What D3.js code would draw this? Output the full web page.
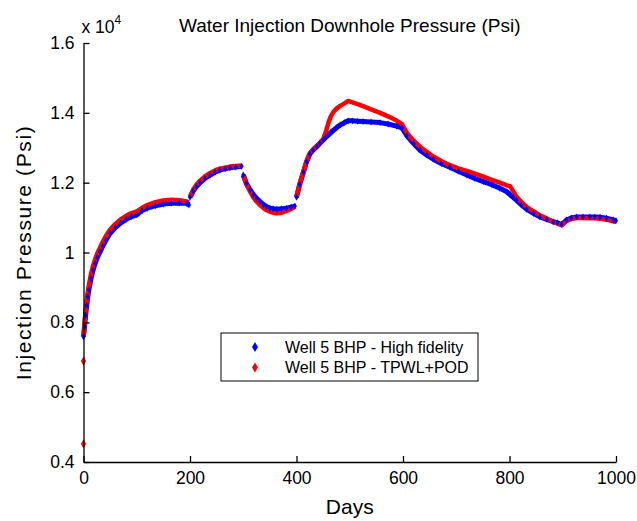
<!DOCTYPE html>
<html lang="en">
<head>
<meta charset="utf-8">
<title>Water Injection Downhole Pressure</title>
<style>
  html, body { margin: 0; padding: 0; background: #fff; }
  text { font-family: "Liberation Sans", Arial, sans-serif; fill: #000; }
  .axis path, .axis line { stroke: #000; stroke-width: 1.3px; }
</style>
</head>
<body>
<div id="chart"></div>
<script src="https://cdn.jsdelivr.net/npm/d3@7"></script>
<script>
// days of the samples, segments restart at each break
var days = [0, 2, 4, 6, 8, 10, 14, 18, 22, 26, 31, 36, 42, 50, 60, 70, 80, 90, 100, 110, 120, 135, 150, 165, 180, 194, 198,
  200, 206, 212, 219, 228, 238, 247, 256, 266, 275, 286, 297,
  300, 306, 313, 319, 325, 332, 338, 344, 350, 356, 363, 372, 381, 390, 397,
  400, 406, 413, 419, 425, 431, 438, 444, 450, 455, 460, 465, 470, 475, 482, 490, 497, 505, 515, 525, 540, 557, 572, 588, 598,
  607, 620, 632, 645, 657, 672, 688, 704, 720, 735, 751, 767, 782, 795, 801, 807, 813, 822, 832, 845, 857, 870, 882, 890, 898,
  907, 916, 926, 938, 951, 960, 970, 982, 995, 1000];
var breaks = [200, 300, 400];

// Well 5 BHP - High fidelity (x 1e4 psi)
var hiFi = [0.759, 0.787, 0.820, 0.848, 0.873, 0.893, 0.925, 0.950, 0.969, 0.986, 1.002, 1.018, 1.035, 1.055, 1.072, 1.085, 1.095, 1.103, 1.108, 1.120, 1.127, 1.134, 1.139, 1.141, 1.142, 1.141, 1.136,
  1.158, 1.176, 1.189, 1.200, 1.212, 1.222, 1.230, 1.236, 1.240, 1.243, 1.245, 1.247,
  1.222, 1.198, 1.179, 1.166, 1.155, 1.145, 1.137, 1.131, 1.127, 1.125, 1.124, 1.125, 1.127, 1.130, 1.133,
  1.158, 1.195, 1.230, 1.260, 1.282, 1.293, 1.303, 1.313, 1.322, 1.330, 1.337, 1.344, 1.351, 1.357, 1.365, 1.372, 1.377, 1.377, 1.376, 1.375, 1.374, 1.372, 1.368, 1.362, 1.357,
  1.335, 1.312, 1.293, 1.279, 1.267, 1.255, 1.244, 1.233, 1.222, 1.212, 1.203, 1.194, 1.184, 1.174, 1.166, 1.158, 1.150, 1.137, 1.124, 1.112, 1.102, 1.095, 1.088, 1.085, 1.080,
  1.093, 1.099, 1.102, 1.102, 1.102, 1.102, 1.101, 1.098, 1.093, 1.091];

// Well 5 BHP - TPWL+POD (x 1e4 psi)
var tpwl = [0.760, 0.800, 0.835, 0.862, 0.886, 0.906, 0.938, 0.962, 0.981, 0.998, 1.014, 1.030, 1.047, 1.066, 1.082, 1.095, 1.105, 1.113, 1.118, 1.128, 1.136, 1.144, 1.149, 1.151, 1.150, 1.146, 1.143,
  1.160, 1.180, 1.194, 1.206, 1.218, 1.228, 1.235, 1.240, 1.243, 1.246, 1.248, 1.249,
  1.220, 1.195, 1.174, 1.158, 1.146, 1.135, 1.127, 1.121, 1.117, 1.114, 1.112, 1.114, 1.119, 1.125, 1.131,
  1.160, 1.197, 1.232, 1.262, 1.284, 1.295, 1.305, 1.314, 1.324, 1.345, 1.372, 1.392, 1.404, 1.412, 1.420, 1.427, 1.434, 1.430, 1.425, 1.419, 1.410, 1.400, 1.390, 1.378, 1.368,
  1.343, 1.320, 1.303, 1.288, 1.275, 1.262, 1.250, 1.241, 1.234, 1.226, 1.217, 1.208, 1.200, 1.192, 1.190, 1.175, 1.160, 1.145, 1.131, 1.118, 1.107, 1.097, 1.088, 1.083, 1.078,
  1.090, 1.096, 1.099, 1.099, 1.098, 1.098, 1.097, 1.094, 1.089, 1.087];

// first reduced-model samples sitting on the y axis
var tpwlStartDays = [0, 0];
var tpwlStart = [0.452, 0.689];

var xTicks = [0, 200, 400, 600, 800, 1000];
var yTicks = [0.4, 0.6, 0.8, 1, 1.2, 1.4, 1.6];

var width = 637, height = 521;
var margin = {top: 43, right: 21, bottom: 59, left: 83.5};

var svg = d3.select("#chart").append("svg")
  .attr("width", width)
  .attr("height", height);

var x = d3.scaleLinear().domain([0, 1000]).range([margin.left, width - margin.right]);
var y = d3.scaleLinear().domain([0.4, 1.6]).range([height - margin.bottom, margin.top]);

// split the series where the injection schedule jumps
function segments(values) {
  var segs = [], cur = [];
  days.forEach(function (d, i) {
    if (breaks.indexOf(d) >= 0 && cur.length) { segs.push(cur); cur = []; }
    cur.push([d, values[i]]);
  });
  segs.push(cur);
  return segs;
}

var line = d3.line()
  .x(function (d) { return x(d[0]); })
  .y(function (d) { return y(d[1]); });

var diamond = d3.symbol().type(d3.symbolDiamond);

var series = [
  {name: "Well 5 BHP - High fidelity", values: hiFi, color: "#0000ff"},
  {name: "Well 5 BHP - TPWL+POD", values: tpwl, color: "#ff0000"}
];

var plot = svg.append("g");

series.forEach(function (s) {
  plot.append("g").selectAll("path")
    .data(segments(s.values))
    .enter().append("path")
    .attr("d", line)
    .attr("fill", "none")
    .attr("stroke", s.color)
    .attr("stroke-width", s.color === "#0000ff" ? 5 : 4.5)
    .attr("stroke-linejoin", "round");
});

// markers
plot.append("g").selectAll("path")
  .data(days.map(function (d, i) { return [d, hiFi[i]]; }))
  .enter().append("path")
  .attr("d", diamond.size(14)())
  .attr("transform", function (d) { return "translate(" + x(d[0]) + "," + y(d[1]) + ")"; })
  .attr("fill", "#0000ff");

plot.append("g").selectAll("path")
  .data(tpwlStartDays.map(function (d, i) { return [d, tpwlStart[i]]; }))
  .enter().append("path")
  .attr("d", diamond.size(24)())
  .attr("transform", function (d) { return "translate(" + x(d[0]) + "," + y(d[1]) + ")"; })
  .attr("fill", "#ff0000");

// axes, ticks pointing inward, no box
var xAxis = svg.append("g")
  .attr("class", "axis")
  .attr("transform", "translate(0," + (height - margin.bottom) + ")")
  .call(d3.axisBottom(x).tickValues(xTicks).tickSizeInner(-6).tickSizeOuter(0).tickPadding(10).tickFormat(d3.format("d")));
var yAxis = svg.append("g")
  .attr("class", "axis")
  .attr("transform", "translate(" + margin.left + ",0)")
  .call(d3.axisLeft(y).tickValues(yTicks).tickSizeInner(-6).tickSizeOuter(0).tickPadding(9).tickFormat(function (d) { return d3.format("")(d); }));

svg.selectAll(".axis text").style("font-size", "17.5px").style("font-family", "'Liberation Sans', Arial, sans-serif");

// exponent label
var expo = svg.append("text").attr("x", margin.left - 2).attr("y", 33).style("font-size", "17.5px");
expo.append("tspan").text("x 10");
expo.append("tspan").attr("dy", -9).style("font-size", "12px").text("4");

svg.append("text")
  .attr("x", (x(0) + x(1000)) / 2)
  .attr("y", 32)
  .attr("text-anchor", "middle")
  .style("font-size", "19px")
  .text("Water Injection Downhole Pressure (Psi)");

svg.append("text")
  .attr("x", (x(0) + x(1000)) / 2)
  .attr("y", 514)
  .attr("text-anchor", "middle")
  .style("font-size", "21px")
  .text("Days");

svg.append("text")
  .attr("transform", "translate(31," + ((y(0.4) + y(1.6)) / 2) + ") rotate(-90)")
  .attr("text-anchor", "middle")
  .style("font-size", "21px")
  .style("letter-spacing", "1.6px")
  .text("Injection Pressure (Psi)");

// legend
var legend = svg.append("g").attr("transform", "translate(221,333)");
legend.append("rect")
  .attr("width", 257).attr("height", 48)
  .attr("fill", "#fff").attr("stroke", "#000").attr("stroke-width", 1);
series.forEach(function (s, i) {
  var row = legend.append("g").attr("transform", "translate(0," + (14 + i * 20.5) + ")");
  row.append("path")
    .attr("d", diamond.size(30)())
    .attr("transform", "translate(34,0)")
    .attr("fill", s.color);
  row.append("text")
    .attr("x", 64).attr("y", 5.5)
    .style("font-size", "16px")
    .text(s.name);
});
</script>
</body>
</html>
